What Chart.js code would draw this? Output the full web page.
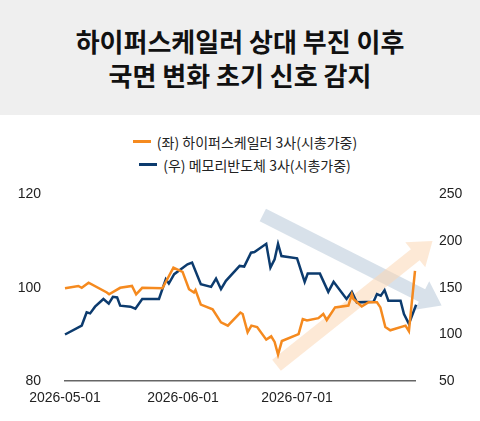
<!DOCTYPE html>
<html><head><meta charset="utf-8">
<script src="https://cdn.jsdelivr.net/npm/chart.js@4"></script>
<style>
body{margin:0;width:480px;height:421px;overflow:hidden;background:#fff;font-family:"Noto Sans CJK KR","Noto Sans",sans-serif;}
#hdr{height:115px;background:#efefef;display:flex;align-items:center;justify-content:center;text-align:center;font-weight:bold;font-size:26px;line-height:34px;color:#111;}
#leg{position:absolute;top:130px;left:0;width:480px;font-size:14px;color:#222;}
.li{display:flex;align-items:center;justify-content:center;height:23px;margin-left:10px}
.sw{width:18px;height:3px;margin-right:6px}
#wrap{position:absolute;top:170px;left:0;width:480px;height:251px;}
</style></head><body>
<div id="hdr">하이퍼스케일러 상대 부진 이후<br>국면 변화 초기 신호 감지</div>
<div id="leg"><div class="li"><span class="sw" style="background:#f58a1f"></span>(좌) 하이퍼스케일러 3사(시총가중)</div>
<div class="li"><span class="sw" style="background:#0c3b6e"></span>(우) 메모리반도체 3사(시총가중)</div></div>
<div id="wrap"><canvas id="c"></canvas></div>
<script>
const xTickDays=[0,31,61,92];
const xTickLabels=['2026-05-01','2026-06-01','2026-07-01',''];
const hyperDays=[0,3.5,4.4,6.2,11,11.6,14.5,17.6,18.7,20.3,25.6,28.5,30.9,32.6,33.9,34.3,35.7,38.8,41,42.8,46.1,46.7,48,49,50.5,52.9,54.2,55.1,56,57,61.4,62.5,63.6,66.6,67.9,68.8,71,74.5,75.4,75.8,78,79.8,82,82.9,84.2,85.5,89.5,90.4,92];
const hyperVals=[99.9,100.4,100.0,101.1,99.0,98.6,100.0,100.4,98.6,100.0,99.9,104.3,103.4,99.7,99.0,99.5,96.4,95.4,92.6,91.9,94.7,94.4,90.5,91.9,91.6,88.9,89.6,88.4,85.7,88.6,90.1,93.3,93.0,93.5,94.4,93.1,95.8,96.2,98.6,97.6,96.0,96.9,96.9,95.8,91.6,90.9,91.9,90.7,103.6];
const memDays=[0,4.4,5.7,6.6,7.9,10.1,11.5,12.6,13.7,14.5,17.2,18.5,20.3,24.7,26.5,27.3,28.7,32.2,33.4,35.7,38.4,39.7,41,42.3,45.9,47.1,48.9,49.8,52.9,54,55.1,56,56.9,61,63,63.8,67,69.2,70.6,74,75.4,76.7,81.1,82,83,84,85,88.2,89.1,90.4,92.3];
const memVals=[100,109.6,123.7,122.6,129.8,138,133,140.4,139.7,130.9,129.8,127.7,138,138,159.2,154.6,164.6,175.2,177,153.9,151,159.9,148.6,157.5,173.4,172.7,187.6,188.3,197.1,171.6,180.5,197.1,184,181.6,156.4,165.2,165.2,145.7,156.4,138,145.7,134.4,135.1,143.3,141.5,147.5,136.2,136.2,122,111.4,131.9];
const arrowPlugin={id:'arrows',beforeDatasetsDraw(ch){
 const c=ch.ctx,x=ch.scales.x,y=ch.scales.y1;
 function arrow(d0,v0,d1,v1,col){
  const x0=x.getPixelForValue(d0),y0=y.getPixelForValue(v0),x1=x.getPixelForValue(d1),y1=y.getPixelForValue(v1);
  const a=Math.atan2(y1-y0,x1-x0),w=14,hl=22,hw=16;
  c.save();c.translate(x0,y0);c.rotate(a);const L=Math.hypot(x1-x0,y1-y0);
  c.fillStyle=col;c.beginPath();c.moveTo(0,-w/2);c.lineTo(L-hl,-w/2);c.lineTo(L-hl,-hw);c.lineTo(L,0);c.lineTo(L-hl,hw);c.lineTo(L-hl,w/2);c.lineTo(0,w/2);c.closePath();c.fill();c.restore();}
 arrow(52,228,99,131,'rgba(190,205,220,0.6)');
 arrow(55.6,67,96.6,200,'rgba(252,215,180,0.55)');
}};
new Chart(document.getElementById('c'),{type:'line',
data:{datasets:[
 {data:hyperDays.map((d,i)=>({x:d,y:hyperVals[i]})),borderColor:'#f58a1f',borderWidth:2.5,pointRadius:0,yAxisID:'y',tension:0},
 {data:memDays.map((d,i)=>({x:d,y:memVals[i]})),borderColor:'#0c3b6e',borderWidth:2.5,pointRadius:0,yAxisID:'y1',tension:0}]},
options:{responsive:true,maintainAspectRatio:false,animation:false,clip:false,
 layout:{padding:{top:9,bottom:11}},
 plugins:{legend:{display:false},tooltip:{enabled:false}},
 scales:{
  x:{type:'linear',min:0,max:92,afterBuildTicks:s=>{s.ticks=xTickDays.map(v=>({value:v}));},
   grid:{display:false,drawTicks:true,tickLength:6,color:'#666'},border:{color:'#666',width:1.5},
   ticks:{color:'#222',font:{size:14,family:'Liberation Sans'},maxRotation:0,autoSkip:false,callback:(v,i)=>xTickLabels[i]}},
  y:{position:'left',min:80,max:120,afterFit:s=>{s.width=65},afterBuildTicks:s=>{s.ticks=[80,100,120].map(v=>({value:v}))},
   grid:{display:false},border:{display:false},ticks:{color:'#222',padding:16,font:{size:14,family:'Liberation Sans'}}},
  y1:{position:'right',min:50,max:250,afterFit:s=>{s.width=65},afterBuildTicks:s=>{s.ticks=[50,100,150,200,250].map(v=>({value:v}))},
   grid:{display:false},border:{display:false},ticks:{color:'#222',padding:16,font:{size:14,family:'Liberation Sans'}}}
 }},plugins:[arrowPlugin]});
</script></body></html>
